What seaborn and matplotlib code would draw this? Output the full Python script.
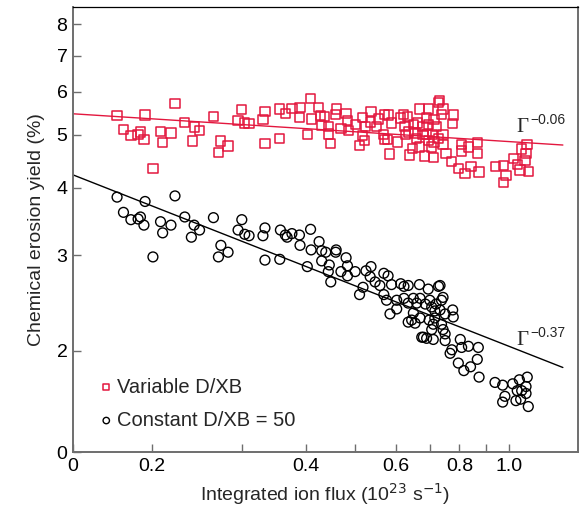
import numpy as np
import pandas as pd
import matplotlib
matplotlib.use("Agg")
import matplotlib.pyplot as plt
import seaborn as sns

# ---- data ----
var_flux = [0.171, 0.194, 0.222, 0.176, 0.182, 0.188, 0.190, 0.193, 0.208, 0.218, 0.210, 0.232, 0.242,
            0.248, 0.240, 0.264, 0.273, 0.282, 0.270, 0.300, 0.295, 0.304, 0.310, 0.330, 0.333, 0.333,
            0.201, 0.356, 0.356,
            0.365, 0.376, 0.390, 0.389, 0.409, 0.410, 0.424, 0.427, 0.435, 0.429, 0.444, 0.444, 0.447,
            0.460, 0.458, 0.480, 0.483, 0.469, 0.485, 0.500, 0.516, 0.537, 0.535, 0.551, 0.556, 0.570,
            0.581, 0.588, 0.523, 0.516, 0.509, 0.521, 0.568, 0.579, 0.570, 0.584, 0.605, 0.621, 0.614,
            0.633, 0.626, 0.635, 0.628, 0.638, 0.403,
            0.731, 0.728, 0.668, 0.695, 0.743, 0.738, 0.778, 0.776, 0.662, 0.690, 0.695, 0.713, 0.722,
            0.651, 0.679, 0.655, 0.679, 0.690, 0.709, 0.743, 0.660, 0.695, 0.713, 0.728, 0.743, 0.668,
            0.648, 0.706, 0.684, 0.711, 0.753, 0.773, 0.796, 0.808, 0.808, 0.833, 0.820, 0.843, 0.868,
            0.868, 0.874, 0.940, 0.975, 0.987, 0.975, 1.020, 1.038, 1.051, 1.080, 1.085, 1.093, 1.059,
            1.075]
var_yield = [5.42, 5.44, 5.72, 5.11, 4.98, 5.01, 5.06, 4.91, 5.07, 5.04, 4.84, 5.27, 5.17,
             5.09, 4.87, 5.41, 4.87, 4.77, 4.64, 5.56, 5.31, 5.26, 5.25, 5.33, 5.52, 4.82,
             4.33, 5.58, 4.93,
             5.48, 5.60, 5.61, 5.38, 5.84, 5.35, 5.61, 5.43, 5.40, 5.20, 5.18, 5.02, 4.82,
             5.58, 5.46, 5.47, 5.31, 5.14, 5.10, 5.22, 5.38, 5.52, 5.28, 5.18, 5.35, 5.46,
             5.44, 5.26, 5.18, 4.98, 4.78, 4.89, 5.01, 4.91, 4.91, 4.61, 4.85, 5.46, 5.37,
             5.40, 5.18, 5.06, 5.00, 4.59, 5.00,
             5.78, 5.74, 5.58, 5.58, 5.58, 5.46, 5.44, 5.24, 5.26, 5.37, 5.22, 5.33, 5.18,
             5.22, 5.18, 5.04, 5.00, 5.01, 5.01, 5.01, 4.93, 4.89, 4.85, 4.93, 4.80, 4.75,
             4.72, 4.75, 4.57, 4.55, 4.62, 4.47, 4.33, 4.80, 4.67, 4.75, 4.25, 4.37, 4.84,
             4.62, 4.27, 4.37, 4.39, 4.21, 4.09, 4.53, 4.41, 4.31, 4.62, 4.80, 4.28, 4.71,
             4.49]

const_flux = [0.171, 0.194, 0.222, 0.176, 0.182, 0.188, 0.190, 0.193, 0.208, 0.218, 0.210, 0.232, 0.242,
              0.248, 0.239, 0.264, 0.273, 0.282, 0.270, 0.300, 0.295, 0.304, 0.310, 0.330, 0.333, 0.333,
              0.201,
              0.357, 0.365, 0.376, 0.368, 0.389, 0.390, 0.409, 0.356, 0.403, 0.410, 0.425, 0.430, 0.438,
              0.430, 0.445, 0.443, 0.448, 0.459, 0.458, 0.480, 0.483, 0.469, 0.483, 0.500, 0.518, 0.510,
              0.525, 0.537, 0.535, 0.547, 0.559, 0.603,
              0.569, 0.580, 0.589, 0.569, 0.576, 0.585, 0.603, 0.614, 0.623, 0.635, 0.668, 0.695, 0.728,
              0.733, 0.623, 0.635, 0.650, 0.660, 0.670, 0.686, 0.700, 0.706, 0.720, 0.738, 0.743, 0.716,
              0.733, 0.750, 0.776, 0.778, 0.650, 0.635, 0.645, 0.655, 0.670, 0.698, 0.711, 0.716, 0.738,
              0.680, 0.675, 0.690, 0.711, 0.706, 0.743,
              0.750, 0.750, 0.773, 0.767, 0.803, 0.808, 0.833, 0.871, 0.796, 0.816, 0.841, 0.867, 0.874,
              0.939, 0.972, 0.982, 0.972, 1.017, 1.048, 1.086, 1.080, 1.059, 1.038, 1.080, 1.054, 1.032,
              1.091]
const_yield = [3.84, 3.77, 3.86, 3.60, 3.49, 3.50, 3.53, 3.41, 3.46, 3.41, 3.30, 3.53, 3.41,
               3.34, 3.24, 3.52, 3.13, 3.04, 2.98, 3.49, 3.34, 3.28, 3.26, 3.26, 3.37, 2.94,
               2.98,
               3.34, 3.27, 3.29, 3.24, 3.27, 3.13, 3.35, 2.95, 2.86, 3.07, 3.18, 3.06, 3.04,
               2.93, 2.88, 2.80, 2.68, 3.07, 3.04, 2.97, 2.87, 2.80, 2.75, 2.80, 2.62, 2.54,
               2.81, 2.86, 2.74, 2.68, 2.64, 2.48,
               2.78, 2.75, 2.65, 2.54, 2.48, 2.34, 2.39, 2.66, 2.63, 2.64, 2.65, 2.60, 2.63,
               2.64, 2.50, 2.45, 2.50, 2.45, 2.50, 2.44, 2.48, 2.41, 2.44, 2.48, 2.51, 2.37,
               2.38, 2.34, 2.38, 2.31, 2.35, 2.26, 2.28, 2.25, 2.30, 2.28, 2.24, 2.30, 2.24,
               2.12, 2.12, 2.11, 2.10, 2.19, 2.19,
               2.15, 2.09, 2.01, 1.98, 2.10, 2.03, 2.04, 2.03, 1.90, 1.84, 1.87, 1.93, 1.79,
               1.75, 1.73, 1.65, 1.61, 1.74, 1.77, 1.79, 1.72, 1.69, 1.69, 1.67, 1.63, 1.62,
               1.58]

series_labels = ["Variable D/XB", "Constant D/XB = 50"]
fit_exponents = [-0.06, -0.37]
fit_coeffs = [4.86, 2.04]
fit_range = [0.1402, 1.275]

x_ticks = [0.1402, 0.2, 0.4, 0.6, 0.8, 1.0]
x_ticklabels = ["0", "0.2", "0.4", "0.6", "0.8", "1.0"]
x_minor = [0.3, 0.5, 0.7, 0.9]
y_ticks = [1.303, 2, 3, 4, 5, 6, 7, 8]
y_ticklabels = ["0", "2", "3", "4", "5", "6", "7", "8"]
xlim = (0.1402, 1.365)
ylim = (1.303, 8.60)

RED = "#E3173E"
GREY = "#6E6E6E"

sns.set_style("ticks")
plt.rcParams["font.family"] = ["Liberation Sans", "DejaVu Sans"]
plt.rcParams["axes.unicode_minus"] = True

fig = plt.figure(figsize=(5.86, 5.11), dpi=100)
ax = fig.add_axes([73 / 586, 59 / 511, 505 / 586, 445 / 511])

df_var = pd.DataFrame({"flux": var_flux, "yield": var_yield})
df_const = pd.DataFrame({"flux": const_flux, "yield": const_yield})

sns.scatterplot(data=df_var, x="flux", y="yield", ax=ax, marker="s", s=44,
                facecolor="none", edgecolor=RED, linewidth=1.1, label=series_labels[0],
                zorder=3)
sns.scatterplot(data=df_const, x="flux", y="yield", ax=ax, marker="o", s=50,
                facecolor="none", edgecolor="black", linewidth=1.0, label=series_labels[1],
                zorder=3)

xf = np.geomspace(fit_range[0], fit_range[1], 50)
for c, e, col in zip(fit_coeffs, fit_exponents, [RED, "black"]):
    sns.lineplot(x=xf, y=c * xf ** e, ax=ax, color=col, linewidth=1.0, zorder=2)

ax.set_xscale("log")
ax.set_yscale("log")
ax.set_xlim(*xlim)
ax.set_ylim(*ylim)

ax.xaxis.set_major_locator(matplotlib.ticker.FixedLocator(x_ticks))
ax.xaxis.set_major_formatter(matplotlib.ticker.FixedFormatter(x_ticklabels))
ax.xaxis.set_minor_locator(matplotlib.ticker.FixedLocator(x_minor))
ax.xaxis.set_minor_formatter(matplotlib.ticker.NullFormatter())
ax.yaxis.set_major_locator(matplotlib.ticker.FixedLocator(y_ticks))
ax.yaxis.set_major_formatter(matplotlib.ticker.FixedFormatter(y_ticklabels))
ax.yaxis.set_minor_locator(matplotlib.ticker.NullLocator())

ax.tick_params(axis="both", which="both", direction="in", length=6, width=1.0,
               color=GREY, labelsize=14, labelcolor="black",
               top=False, right=False, bottom=True, left=True)
ax.tick_params(axis="y", pad=4)
ax.tick_params(axis="x", pad=4)

for side in ["left", "bottom", "right"]:
    ax.spines[side].set_color(GREY)
    ax.spines[side].set_linewidth(1.4)
ax.spines["top"].set_color("black")
ax.spines["top"].set_linewidth(0.9)

ax.set_xlabel("Integrated ion flux (10$^{23}$ s$^{\u22121}$)", fontsize=14, labelpad=5)
ax.set_ylabel("Chemical erosion yield (%)", fontsize=14, labelpad=8)

# Gamma annotations
ax.text(1.036, 5.06, "\u0393", family=["Liberation Serif"], fontsize=15, va="baseline", ha="left")
ax.text(1.099, 5.24, "\u22120.06", fontsize=10, va="baseline", ha="left")
ax.text(1.036, 2.05, "\u0393", family=["Liberation Serif"], fontsize=15, va="baseline", ha="left")
ax.text(1.099, 2.12, "\u22120.37", fontsize=10, va="baseline", ha="left")

leg = ax.legend(loc="upper left", bbox_to_anchor=(0.028, 0.185), frameon=False,
                fontsize=14.5, handletextpad=0.0, labelspacing=0.7, markerscale=0.65,
                handlelength=1.1, borderaxespad=0)

fig.savefig("out.png", dpi=100)
